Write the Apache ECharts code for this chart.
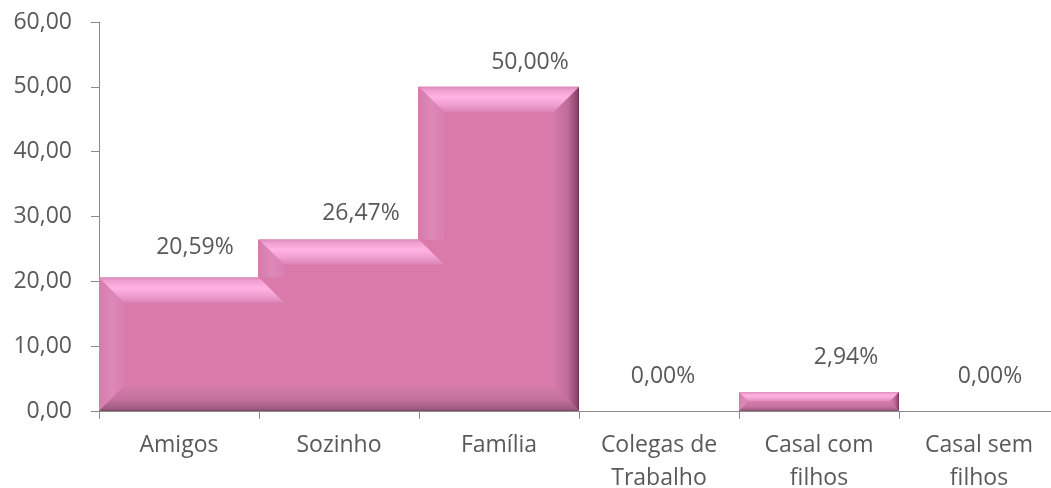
<!DOCTYPE html>
<html><head><meta charset="utf-8">
<script src="https://cdn.jsdelivr.net/npm/echarts@6/dist/echarts.min.js"></script>
<style>html,body{margin:0;padding:0;background:#fff}#c{width:1051px;height:488px}</style>
</head><body><div id="c"></div>
<script>
const categories = ['Amigos', 'Sozinho', 'Família', 'Colegas de\nTrabalho', 'Casal com\nfilhos', 'Casal sem\nfilhos'];
const percentages = [20.59, 26.47, 50.00, 0.00, 2.94, 0.00];
const yMin = 0, yMax = 60, yStep = 10;

// label nudges (style only): [dx, distance above bar top]
const labelNudge = [[16, 30], [22, 26], [31, 24], [4, 35], [27, 34], [11, 35]];

const FONT = '"Open Sans", sans-serif';
const TXT = '#595959';
const AX = '#8A8A8A';
const fmt = n => n.toFixed(2).replace('.', ',');

function lin(x2, y2, stops) {
  return { type: 'linear', x: 0, y: 0, x2: x2, y2: y2,
    colorStops: stops.map(s => ({ offset: s[0], color: s[1] })) };
}

function renderItem(params, api) {
  const i = api.value(0);
  const v = api.value(1);
  const w = api.size([1, 0])[0];
  const c = api.coord([i, v]);
  const yB = api.coord([i, 0])[1];
  const yT = c[1];
  const x0 = c[0] - w / 2, x1 = c[0] + w / 2;
  const children = [];
  const nd = labelNudge[i];
  children.push({
    type: 'text', z2: 10,
    style: { text: fmt(v) + '%', x: c[0] + nd[0], y: yT - nd[1], align: 'center',
      verticalAlign: 'middle', fill: TXT, font: '23px ' + FONT }
  });
  if (v > 0) {
    const h = yB - yT;
    const b = Math.min(25, h / 2, w / 2);
    const prev = i > 0 ? percentages[i - 1] : 0;
    const next = i < percentages.length - 1 ? percentages[i + 1] : 0;
    const prevY = prev > 0 ? api.coord([i - 1, prev])[1] : null;
    const nextY = next > 0 ? api.coord([i + 1, next])[1] : null;

    const ex0 = prevY !== null ? x0 - 1 : x0;
    const ex1 = nextY !== null ? x1 + 1 : x1;
    children.push({ type: 'rect', z2: 0, shape: { x: ex0, y: yT, width: ex1 - ex0, height: h },
      style: { fill: '#D97AAA' } });

    const leftFill = lin(1, 0, [[0, '#D47DAC'], [0.5, '#DE88B9'], [1, '#D97EB0']]);
    // left bevel
    if (prevY === null) {
      children.push({ type: 'polygon', z2: 1,
        shape: { points: [[x0, yT], [x0 + b, yT + b], [x0 + b, yB - b], [x0, yB]] },
        style: { fill: leftFill } });
    } else if (prevY > yT) {
      children.push({ type: 'polygon', z2: 1,
        shape: { points: [[x0, yT], [x0 + b, yT + b], [x0 + b, Math.max(prevY, yT + b)], [x0, prevY]] },
        style: { fill: leftFill } });
    }
    const rightFill = lin(1, 0, [[0, '#D27BAA'], [0.55, '#C06C9A'], [0.9, '#93486F'], [1, '#6E3455']]);
    // right bevel
    if (nextY === null) {
      children.push({ type: 'polygon', z2: 1,
        shape: { points: [[x1, yT], [x1, yB], [x1 - b, yB - b], [x1 - b, yT + b]] },
        style: { fill: rightFill } });
    } else if (nextY > yT) {
      children.push({ type: 'polygon', z2: 1,
        shape: { points: [[x1, yT], [x1, nextY], [x1 - b, Math.max(nextY, yT + b)], [x1 - b, yT + b]] },
        style: { fill: rightFill } });
    }
    // bottom bevel
    const bl = prevY !== null ? x0 - 1 : x0 + b;
    const br = nextY !== null ? x1 + 1 : x1 - b;
    children.push({ type: 'polygon', z2: 1,
      shape: { points: [[bl === x0 + b ? x0 : x0 - 1, yB], [br === x1 - b ? x1 : x1 + 1, yB], [br, yB - b], [bl, yB - b]] },
      style: { fill: lin(0, 1, [[0, '#D47CAA'], [0.55, '#C4719E'], [0.9, '#A05C82'], [1, '#7E4A66']]) } });
    // top bevel
    const tr = (nextY !== null && nextY < yT) ? x1 + b : x1 - b;
    const tl = (prevY !== null && prevY < yT) ? x0 - b : x0 + b;
    children.push({ type: 'polygon', z2: 2,
      shape: { points: [[x0, yT], [x1, yT], [tr, yT + b], [tl, yT + b]] },
      style: { fill: lin(0, 1, [[0, '#D888B8'], [0.12, '#EE9ECE'], [0.42, '#FFB3E4'], [0.72, '#F09FD0'], [1, '#DD85B8']]) } });
  }
  return { type: 'group', children: children };
}

const chart = echarts.init(document.getElementById('c'), null, { renderer: 'canvas' });
chart.setOption({
  animation: false,
  backgroundColor: '#ffffff',
  grid: { left: 99, top: 22, width: 960, height: 389, containLabel: false, outerBoundsMode: 'none' },
  xAxis: {
    type: 'category',
    data: categories,
    boundaryGap: true,
    axisLine: { show: true, lineStyle: { color: AX, width: 1 } },
    axisTick: { show: true, length: 8, lineStyle: { color: AX } },
    axisLabel: { margin: 18, color: TXT, fontFamily: FONT, fontSize: 23, lineHeight: 33, interval: 0 },
    splitLine: { show: false }
  },
  yAxis: {
    type: 'value',
    min: yMin, max: yMax, interval: yStep,
    axisLine: { show: true, lineStyle: { color: AX, width: 1 } },
    axisTick: { show: true, length: 8, lineStyle: { color: AX } },
    axisLabel: { margin: 27, color: TXT, fontFamily: FONT, fontSize: 23, formatter: v => fmt(v) },
    splitLine: { show: false }
  },
  series: [{
    type: 'custom',
    renderItem: renderItem,
    encode: { x: 0, y: 1 },
    data: percentages.map((v, i) => [i, v]),
    clip: false
  }]
});
</script>
</body></html>
